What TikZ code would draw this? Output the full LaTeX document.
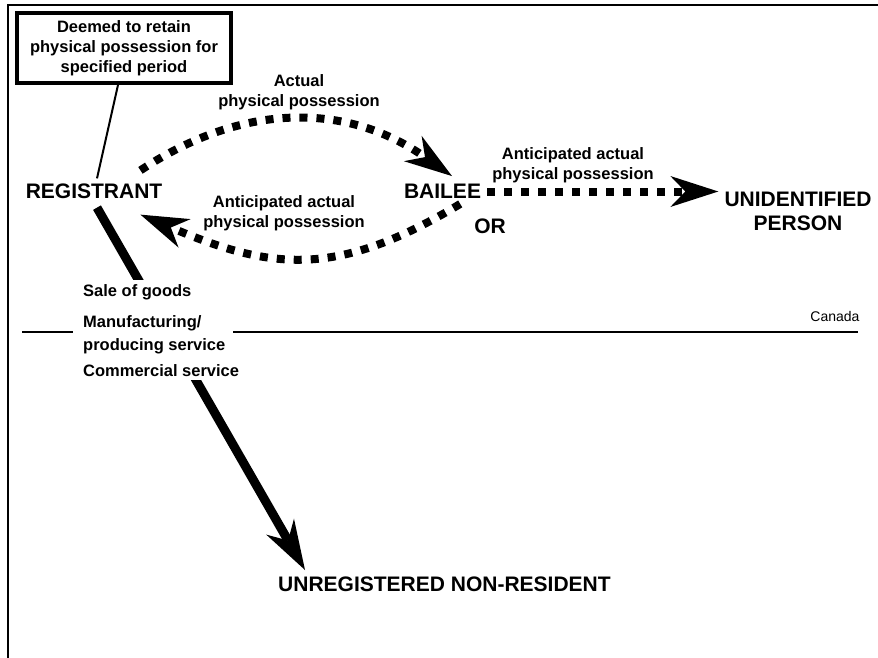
\documentclass[tikz,border=0pt]{standalone}
\usepackage{fontspec}
\setmainfont{Liberation Sans}
\usetikzlibrary{arrows.meta,calc}
\begin{document}
\begin{tikzpicture}[x=1pt,y=-1pt,
  big/.style={font=\fontsize{21}{24}\selectfont\bfseries, inner sep=2pt, align=center},
  mid/.style={font=\fontsize{16.5}{20}\selectfont\bfseries, inner sep=2pt, align=center},
  framestyle/.style={line width=2.5pt},
  dotarrow/.style={line width=8pt, dash pattern=on 8pt off 9pt,
    -{Stealth[length=48pt,width=31pt,inset=15pt,line width=0pt]}},
  thickarrow/.style={line width=9pt,
    -{Stealth[length=50pt,width=32pt,inset=16pt,line width=0pt]}},
  thinline/.style={line width=2pt},
  rule/.style={line width=1.5pt}
  ]
\useasboundingbox (0,0) rectangle (878,658);
% frame
\draw[framestyle] (878,5) -- (8,5) -- (8,658);

% nodes
\node[draw, line width=4pt, mid, minimum width=214pt, minimum height=70pt, inner sep=0pt]
  (deemed) at (124,48) {Deemed to retain\\physical possession for\\specified period};
\node[big] (reg) at (94,191) {REGISTRANT};
\node[big] (bailee) at (442.5,191.5) {BAILEE};
\node[big] (or) at (490,226) {OR};
\node[big] (unid) at (798,211) {UNIDENTIFIED\\PERSON};
\node[big, anchor=north west] (unreg) at (276,575) {UNREGISTERED NON-RESIDENT};

\node[mid] (actual) at (299,92) {Actual\\physical possession};
\node[mid] (anticleft) at (284,213) {Anticipated actual\\physical possession};
\node[mid] (anticright) at (573,165) {Anticipated actual\\physical possession};
\node[font=\fontsize{14}{16}\selectfont, inner sep=2pt] (canada) at (835,316) {Canada};

% connectors
\draw[thinline] ([xshift=-6pt]deemed.south) -- ([xshift=3pt,yshift=3pt]reg.north);
\draw[dotarrow] ($(reg.north east)+(-24,-11)$) .. controls +(104,-69) and +(-104,-73) .. ($(bailee.north)+(9.5,-6)$);
\draw[dotarrow] ($(bailee.south east)+(-23,3)$) .. controls +(-123,74) and +(131.6,55.8) .. ($(reg.south east)+(-24,14)$);
\draw[dotarrow, shorten >=4pt] ([xshift=4pt]bailee.east) -- (bailee.east -| unid.west);
\draw[thickarrow] ([xshift=3pt,yshift=-7pt]reg.south) -- ([xshift=29pt,yshift=5pt]unreg.north west);

% supply labels (cover the thick arrow)
\node[font=\fontsize{16.5}{23}\selectfont\bfseries, align=left, anchor=north west, fill=white, inner sep=4pt]
  (supplies) at (79,280) {Sale of goods\\[8pt]Manufacturing/\\producing service\\[3pt]Commercial service};

% border line of Canada
\coordinate (hla) at (22,332);
\coordinate (hlb) at (73,332);
\coordinate (hlc) at (233,332);
\coordinate (hld) at (858,332);
\draw[rule] (hla) -- (hlb) (hlc) -- (hld);
\end{tikzpicture}
\end{document}
